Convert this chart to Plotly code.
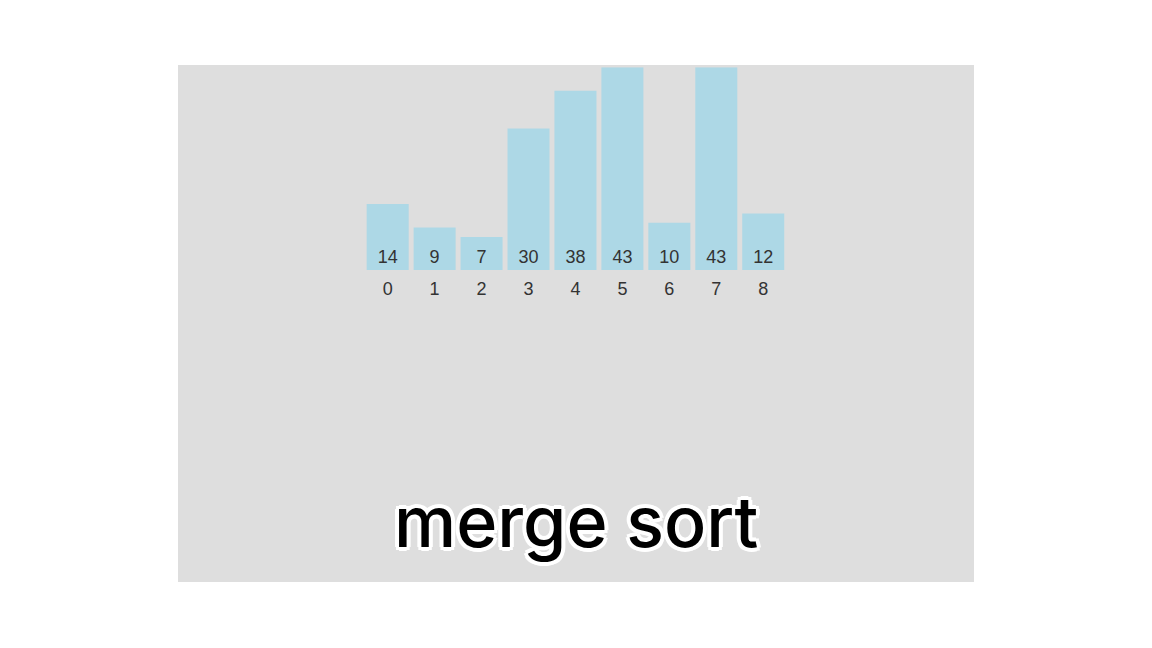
import plotly.graph_objects as go

indices = ["0", "1", "2", "3", "4", "5", "6", "7", "8"]
values = [14, 9, 7, 30, 38, 43, 10, 43, 12]
caption = "merge sort"

W, H = 1152, 648
fig = go.Figure()
fig.add_trace(go.Bar(
    x=indices, y=values,
    text=[str(v) for v in values],
    textposition="inside", insidetextanchor="start", textangle=0,
    textfont=dict(family="Liberation Sans, Arial", size=18, color="#333333"),
    marker=dict(color="#add8e6", line=dict(width=0)),
    hoverinfo="skip",
))

x0, x1 = 364.2, 786.7
ytop, ybot = 67.3, 270.0
fig.update_layout(
    width=W, height=H, autosize=False,
    margin=dict(l=0, r=0, t=0, b=0),
    paper_bgcolor="white", plot_bgcolor="rgba(0,0,0,0)",
    bargap=0.105, showlegend=False,
    xaxis=dict(domain=[x0 / W, x1 / W], range=[-0.5, 8.5], type="category",
               showgrid=False, zeroline=False, showline=False,
               ticks="outside", ticklen=2, tickcolor="rgba(0,0,0,0)",
               tickfont=dict(family="Liberation Sans, Arial", size=18, color="#333333")),
    yaxis=dict(domain=[1 - ybot / H, 1 - ytop / H], range=[0, 43],
               visible=False, showgrid=False, zeroline=False),
    shapes=[dict(type="rect", xref="paper", yref="paper", layer="below",
                 x0=178 / W, x1=974 / W, y0=1 - 582 / H, y1=1 - 65 / H,
                 fillcolor="#dedede", line=dict(width=0))],
    annotations=[dict(
        text=caption, xref="paper", yref="paper", x=576 / W, y=1 - 521 / H,
        xanchor="center", yanchor="middle", showarrow=False,
        font=dict(family="Inter", size=70, color="#000000", weight=500,
                  shadow="-3px -3px 0 #fff, 3px -3px 0 #fff, -3px 3px 0 #fff, 3px 3px 0 #fff, 0 4px 0 #fff, 4px 0 0 #fff, 0 -4px 0 #fff, -4px 0 0 #fff"),
    )],
)
fig.write_html("out.html")
